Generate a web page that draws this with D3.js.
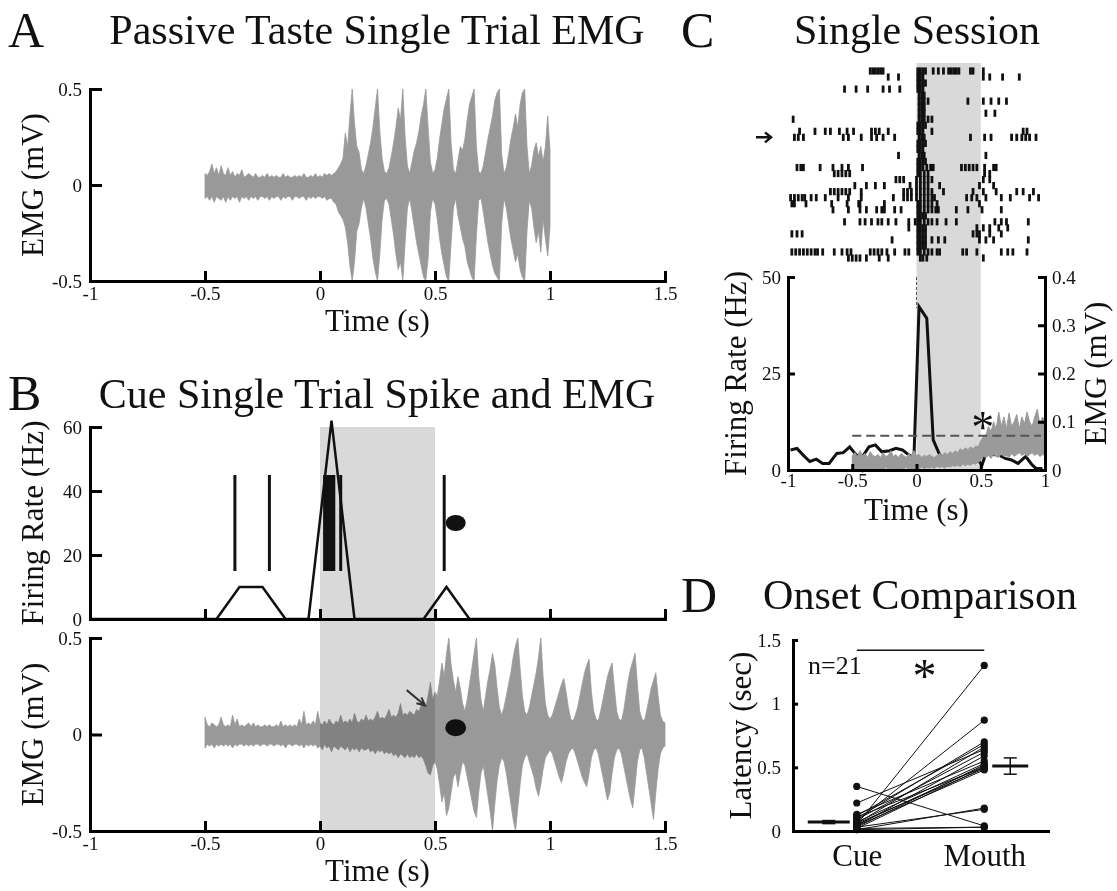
<!DOCTYPE html>
<html lang="en">
<head>
<meta charset="UTF-8">
<title>Cue and taste EMG onset</title>
<script src="https://cdnjs.cloudflare.com/ajax/libs/d3/7.8.5/d3.min.js"></script>
<style>
    body { margin: 0; background: #fff; }
    svg { display: block; font-family: "Liberation Serif", "Times New Roman", serif; }
    .panel-letter { font-size: 50px; fill: #111; }
    .panel-title { font-size: 42px; fill: #111; text-anchor: middle; }
    .axis-label { font-size: 31px; fill: #111; text-anchor: middle; }
</style>
</head>
<body>
<div id="chart"></div>
<script>
// ---------- shared ticks ----------
const timeTicksAB = [-1, -0.5, 0, 0.5, 1, 1.5];
const timeTicksC = [-1, -0.5, 0, 0.5, 1];
const emgTicks = [-0.5, 0, 0.5];
const rateTicksB = [0, 20, 40, 60];
const rateTicksC = [0, 25, 50];
const emgTicksC = [0, 0.1, 0.2, 0.3, 0.4];
const latencyTicks = [0, 0.5, 1, 1.5];
const cueWindow = [0, 0.5];

// ---------- A: passive taste EMG envelope (mV), one sample every 0.01 s from -0.5 s ----------
const emgStep = 0.01;
const tasteEmgStart = -0.5;
const tasteEmgHigh = [
    0.06, 0.05, 0.07, 0.11, 0.06, 0.09, 0.05, 0.10, 0.06, 0.05,
    0.09, 0.05, 0.07, 0.04, 0.06, 0.05, 0.08, 0.04, 0.05, 0.06,
    0.05, 0.04, 0.06, 0.04, 0.04, 0.05, 0.04, 0.06, 0.04, 0.05,
    0.04, 0.05, 0.04, 0.04, 0.06, 0.04, 0.05, 0.04, 0.04, 0.05,
    0.04, 0.05, 0.04, 0.06, 0.04, 0.04, 0.05, 0.04, 0.06, 0.04,
    0.05, 0.04, 0.06, 0.05, 0.06, 0.05, 0.06, 0.07, 0.09, 0.11,
    0.14, 0.27, 0.20, 0.36, 0.50, 0.32, 0.20, 0.17, 0.08, 0.06,
    0.10, 0.16, 0.22, 0.30, 0.40, 0.50, 0.28, 0.14, 0.07, 0.06,
    0.09, 0.15, 0.22, 0.30, 0.40, 0.34, 0.50, 0.25, 0.10, 0.06,
    0.12, 0.18, 0.22, 0.28, 0.36, 0.42, 0.50, 0.30, 0.12, 0.06,
    0.08, 0.14, 0.24, 0.32, 0.40, 0.45, 0.50, 0.22, 0.08, 0.06,
    0.13, 0.20, 0.18, 0.24, 0.34, 0.42, 0.46, 0.50, 0.20, 0.07,
    0.06, 0.10, 0.17, 0.24, 0.30, 0.36, 0.44, 0.48, 0.50, 0.16,
    0.06, 0.09, 0.16, 0.24, 0.30, 0.37, 0.30, 0.42, 0.48, 0.50,
    0.20, 0.06, 0.10, 0.18, 0.22, 0.15, 0.20, 0.12, 0.20, 0.36,
    0.18
];
const tasteEmgLow = [
    -0.07, -0.06, -0.08, -0.06, -0.09, -0.06, -0.07, -0.08, -0.06, -0.09,
    -0.06, -0.08, -0.06, -0.07, -0.06, -0.09, -0.06, -0.07, -0.06, -0.08,
    -0.06, -0.07, -0.06, -0.08, -0.06, -0.06, -0.07, -0.06, -0.08, -0.06,
    -0.07, -0.06, -0.06, -0.08, -0.06, -0.07, -0.06, -0.06, -0.08, -0.06,
    -0.06, -0.07, -0.06, -0.06, -0.08, -0.06, -0.07, -0.06, -0.07, -0.06,
    -0.06, -0.07, -0.06, -0.08, -0.07, -0.07, -0.09, -0.10, -0.14, -0.16,
    -0.18, -0.22, -0.30, -0.42, -0.50, -0.40, -0.24, -0.20, -0.12, -0.07,
    -0.12, -0.20, -0.28, -0.38, -0.45, -0.50, -0.36, -0.18, -0.08, -0.07,
    -0.10, -0.18, -0.26, -0.36, -0.44, -0.40, -0.50, -0.30, -0.12, -0.07,
    -0.14, -0.22, -0.30, -0.36, -0.42, -0.48, -0.50, -0.38, -0.14, -0.07,
    -0.10, -0.18, -0.28, -0.36, -0.42, -0.48, -0.50, -0.30, -0.12, -0.07,
    -0.16, -0.22, -0.28, -0.32, -0.40, -0.44, -0.48, -0.50, -0.26, -0.08,
    -0.07, -0.14, -0.22, -0.30, -0.36, -0.42, -0.46, -0.48, -0.50, -0.20,
    -0.07, -0.12, -0.20, -0.28, -0.34, -0.40, -0.36, -0.44, -0.48, -0.50,
    -0.24, -0.08, -0.12, -0.22, -0.30, -0.24, -0.35, -0.18, -0.28, -0.37,
    -0.22
];

// ---------- B: cue single trial ----------
const trialSpikeTimes = [-0.37, -0.22, 0.02, 0.03, 0.04, 0.05, 0.06, 0.09, 0.54];
const spikeMarkRange = [15, 45];            // Hz span of each spike mark
const trialRateTime = [-1, -0.45, -0.35, -0.25, -0.15, -0.05, 0.05, 0.15, 0.45, 0.55, 0.65, 1.5];
const trialRateHz   = [ 0,     0,    10,    10,     0,     0,   62,    0,    0,   10,    0,   0];
const mouthOnsetTime = 0.59;
const mouthOnsetRate = 30;
const mouthOnsetEmg = 0.035;
const onsetArrowFrom = [0.377, 0.23];
const onsetArrowTo = [0.457, 0.15];

const cueEmgStart = -0.5;
const cueEmgHigh = [
    0.09, 0.05, 0.04, 0.06, 0.05, 0.04, 0.05, 0.09, 0.05, 0.04,
    0.05, 0.04, 0.10, 0.05, 0.08, 0.04, 0.05, 0.04, 0.05, 0.06,
    0.04, 0.06, 0.04, 0.05, 0.04, 0.04, 0.05, 0.04, 0.05, 0.04,
    0.04, 0.05, 0.04, 0.07, 0.04, 0.05, 0.04, 0.05, 0.04, 0.05,
    0.04, 0.08, 0.05, 0.12, 0.05, 0.06, 0.05, 0.07, 0.05, 0.12,
    0.06, 0.05, 0.07, 0.05, 0.08, 0.06, 0.05, 0.07, 0.06, 0.10,
    0.06, 0.07, 0.06, 0.08, 0.06, 0.11, 0.07, 0.06, 0.08, 0.07,
    0.10, 0.07, 0.08, 0.07, 0.09, 0.12, 0.08, 0.09, 0.08, 0.10,
    0.13, 0.09, 0.10, 0.09, 0.11, 0.16, 0.10, 0.11, 0.10, 0.12,
    0.11, 0.10, 0.13, 0.12, 0.15, 0.17, 0.14, 0.20, 0.27, 0.18,
    0.22, 0.20, 0.28, 0.37, 0.30, 0.42, 0.50, 0.36, 0.28, 0.22,
    0.30, 0.24, 0.16, 0.12, 0.18, 0.26, 0.34, 0.42, 0.50, 0.30,
    0.18, 0.12, 0.20, 0.28, 0.34, 0.42, 0.36, 0.24, 0.14, 0.10,
    0.14, 0.20, 0.26, 0.32, 0.40, 0.46, 0.50, 0.34, 0.20, 0.12,
    0.10, 0.14, 0.20, 0.26, 0.32, 0.40, 0.50, 0.30, 0.16, 0.10,
    0.08, 0.10, 0.14, 0.18, 0.22, 0.26, 0.29, 0.22, 0.14, 0.08,
    0.07, 0.10, 0.14, 0.20, 0.26, 0.32, 0.36, 0.39, 0.22, 0.12,
    0.08, 0.07, 0.12, 0.18, 0.24, 0.30, 0.34, 0.37, 0.24, 0.12,
    0.08, 0.07, 0.12, 0.20, 0.28, 0.34, 0.38, 0.42, 0.26, 0.12,
    0.08, 0.07, 0.12, 0.18, 0.24, 0.28, 0.32, 0.20, 0.10, 0.07,
    0.06
];
const cueEmgLow = [
    -0.07, -0.05, -0.06, -0.05, -0.07, -0.05, -0.06, -0.05, -0.06, -0.05,
    -0.06, -0.05, -0.07, -0.05, -0.06, -0.05, -0.05, -0.06, -0.05, -0.06,
    -0.05, -0.06, -0.05, -0.05, -0.06, -0.05, -0.05, -0.06, -0.05, -0.05,
    -0.06, -0.05, -0.05, -0.06, -0.05, -0.07, -0.05, -0.05, -0.06, -0.05,
    -0.05, -0.06, -0.05, -0.07, -0.05, -0.06, -0.05, -0.06, -0.05, -0.07,
    -0.06, -0.08, -0.05, -0.07, -0.06, -0.09, -0.06, -0.07, -0.08, -0.06,
    -0.07, -0.08, -0.06, -0.09, -0.07, -0.08, -0.07, -0.09, -0.07, -0.08,
    -0.08, -0.07, -0.09, -0.08, -0.10, -0.08, -0.09, -0.08, -0.10, -0.09,
    -0.10, -0.09, -0.11, -0.10, -0.12, -0.10, -0.11, -0.12, -0.10, -0.12,
    -0.11, -0.12, -0.10, -0.12, -0.11, -0.13, -0.16, -0.20, -0.21, -0.16,
    -0.14, -0.18, -0.26, -0.35, -0.30, -0.42, -0.38, -0.30, -0.22, -0.20,
    -0.27, -0.20, -0.14, -0.16, -0.22, -0.28, -0.34, -0.40, -0.43, -0.30,
    -0.20, -0.16, -0.24, -0.32, -0.40, -0.50, -0.36, -0.24, -0.16, -0.12,
    -0.14, -0.20, -0.28, -0.36, -0.44, -0.50, -0.38, -0.26, -0.16, -0.12,
    -0.10, -0.14, -0.18, -0.22, -0.28, -0.32, -0.26, -0.18, -0.12, -0.10,
    -0.08, -0.10, -0.14, -0.18, -0.22, -0.25, -0.20, -0.14, -0.10, -0.08,
    -0.07, -0.10, -0.14, -0.18, -0.22, -0.25, -0.27, -0.20, -0.12, -0.08,
    -0.07, -0.10, -0.16, -0.22, -0.28, -0.34, -0.30, -0.20, -0.12, -0.08,
    -0.07, -0.10, -0.16, -0.22, -0.28, -0.34, -0.38, -0.26, -0.14, -0.08,
    -0.07, -0.12, -0.20, -0.28, -0.36, -0.44, -0.30, -0.18, -0.10, -0.07,
    -0.06
];

// ---------- C: single session ----------
// spike times (s) per trial, trial 0 at top
const sessionSpikes = [
    [-0.36, -0.34, -0.32, -0.30, -0.28, -0.26, 0.01, 0.03, 0.05, 0.07, 0.13, 0.17, 0.21, 0.25, 0.27, 0.29, 0.31, 0.33, 0.42, 0.44, 0.52],
    [-0.22, -0.14, 0.01, 0.03, 0.05, 0.52, 0.57, 0.67, 0.80],
    [0.01, 0.03, 0.05, 0.07],
    [-0.56, -0.47, -0.38, -0.26, -0.21, -0.13, 0.01, 0.03, 0.05],
    [0.02, 0.04, 0.06],
    [0.02, 0.04, 0.06, 0.09, 0.40, 0.52, 0.58, 0.64, 0.70],
    [0.02, 0.04, 0.06],
    [0.02, 0.04, 0.06, 0.54, 0.61],
    [-0.96, 0.02, 0.04, 0.06, 0.09, 0.12],
    [0.01, 0.03, 0.05, 0.07],
    [-0.91, -0.79, -0.71, -0.67, -0.60, -0.54, -0.49, -0.35, -0.32, -0.29, -0.22, 0.01, 0.03, 0.05, 0.12, 0.83, 0.86],
    [-0.95, -0.92, -0.88, -0.57, -0.53, -0.43, -0.35, -0.31, -0.26, -0.17, 0.02, 0.04, 0.06, 0.42, 0.53, 0.58, 0.74, 0.78, 0.82, 0.85, 0.88, 0.93],
    [0.01, 0.03, 0.05, 0.07],
    [0.01, 0.03, 0.05],
    [-0.14, 0.02, 0.04, 0.06, 0.54],
    [0.01, 0.03, 0.05, 0.07],
    [-0.93, -0.90, -0.88, -0.75, -0.65, -0.58, -0.53, -0.42, 0.01, 0.03, 0.05, 0.08, 0.11, 0.13, 0.35, 0.38, 0.41, 0.44, 0.47, 0.53, 0.60, 0.62],
    [-0.64, -0.61, -0.58, -0.55, -0.52, 0.01, 0.03, 0.06, 0.09, 0.53, 0.57],
    [-0.16, -0.13, -0.10, 0.00, 0.03, 0.06, 0.09, 0.12, 0.52, 0.57],
    [-0.48, -0.39, -0.32, -0.25, -0.05, 0.00, 0.03, 0.06, 0.09, 0.18, 0.49, 0.60],
    [-0.67, -0.64, -0.61, -0.58, -0.55, -0.52, -0.43, -0.10, -0.07, -0.04, 0.00, 0.03, 0.06, 0.09, 0.12, 0.21, 0.44, 0.52, 0.62, 0.78, 0.83, 0.91],
    [-0.98, -0.95, -0.92, -0.89, -0.87, -0.82, -0.78, -0.71, -0.61, -0.53, -0.43, -0.18, -0.10, -0.07, -0.04, 0.00, 0.03, 0.06, 0.09, 0.12, 0.14, 0.39, 0.43, 0.47, 0.54, 0.66, 0.73, 0.88, 0.95],
    [-0.97, -0.95, -0.86, -0.66, -0.54, -0.45, -0.44, -0.25, 0.01, 0.03, 0.06, 0.09, 0.12, 0.16, 0.49],
    [-0.65, -0.53, -0.44, -0.39, -0.31, -0.27, -0.25, -0.17, -0.12, 0.01, 0.03, 0.06, 0.09, 0.12, 0.15, 0.17, 0.31, 0.40, 0.51, 0.66],
    [0.01, 0.03, 0.05, 0.07],
    [-0.56, -0.44, -0.40, -0.35, -0.30, -0.27, -0.22, -0.16, -0.06, -0.01, 0.01, 0.03, 0.06, 0.09, 0.12, 0.16, 0.23, 0.31, 0.61, 0.66, 0.70, 0.87],
    [-0.06, 0.01, 0.03, 0.05, 0.07, 0.47, 0.52, 0.57, 0.64, 0.71],
    [-0.97, -0.93, -0.89, 0.01, 0.03, 0.05, 0.07, 0.44, 0.47, 0.49, 0.57, 0.66],
    [-0.19, 0.01, 0.03, 0.05, 0.07, 0.12, 0.17, 0.22, 0.49, 0.54, 0.60, 0.87],
    [0.01, 0.03, 0.05, 0.07],
    [-0.97, -0.94, -0.91, -0.88, -0.85, -0.82, -0.79, -0.77, -0.73, -0.64, -0.58, -0.54, -0.51, -0.36, -0.33, -0.30, -0.27, -0.23, -0.17, -0.09, -0.06, 0.01, 0.03, 0.06, 0.09, 0.12, 0.16, 0.18, 0.36, 0.39, 0.47, 0.66, 0.71, 0.75, 0.86],
    [-0.53, -0.50, -0.47, -0.44, -0.39, -0.29, -0.22, 0.03, 0.05, 0.08, 0.52]
];
const markedTrial = 11;

const sessionRateTime = [-0.98, -0.93, -0.88, -0.83, -0.78, -0.73, -0.68, -0.62, -0.57, -0.52, -0.47, -0.42, -0.37, -0.32, -0.27, -0.21, -0.16, -0.11, -0.06, -0.02, 0.02, 0.08, 0.13, 0.18, 0.23, 0.28, 0.33, 0.38, 0.43, 0.48, 0.51, 0.54, 0.59, 0.64, 0.69, 0.74, 0.79, 0.85, 0.90, 0.93, 0.98];
const sessionRateHz   = [5.2, 5.6, 3.8, 2.2, 2.8, 1.7, 1.7, 4.3, 4.5, 6.0, 3.9, 3.5, 6.0, 6.5, 4.7, 5.0, 5.6, 5.2, 3.9, 3.2, 42.3, 39.3, 7.8, 3.9, 2.5, 2.0, 2.4, 2.8, 3.0, 2.5, 1.3, 4.3, 4.0, 3.9, 3.0, 2.6, 1.7, 3.5, 1.3, 0.4, 0.4];

// mean EMG (mV), one sample every 0.02 s from -0.5 s
const sessionEmgStart = -0.5;
const sessionEmgStep = 0.02;
const sessionEmgHigh = [
    0.030, 0.036, 0.028, 0.040, 0.030, 0.034, 0.026, 0.038, 0.030, 0.028,
    0.032, 0.026, 0.036, 0.028, 0.030, 0.040, 0.028, 0.032, 0.026, 0.034,
    0.030, 0.026, 0.034, 0.028, 0.040, 0.030, 0.032, 0.026, 0.030, 0.028,
    0.032, 0.028, 0.026, 0.030, 0.034, 0.030, 0.036, 0.032, 0.038, 0.034,
    0.040, 0.036, 0.044, 0.040, 0.046, 0.042, 0.048, 0.044, 0.050, 0.048,
    0.060, 0.070, 0.072, 0.090, 0.080, 0.100, 0.085, 0.120, 0.090, 0.110,
    0.085, 0.118, 0.090, 0.100, 0.115, 0.085, 0.110, 0.095, 0.120, 0.100,
    0.090, 0.110, 0.126, 0.095, 0.110, 0.100
];
const sessionEmgLow = [
    0.002, -0.004, 0.004, 0.000, -0.006, 0.003, 0.000, 0.004, -0.003, 0.002,
    0.004, 0.000, -0.004, 0.005, 0.002, -0.002, 0.004, 0.000, 0.003, -0.004,
    0.002, 0.005, 0.000, 0.003, -0.003, 0.004, 0.002, 0.006, 0.003, 0.005,
    0.004, 0.006, 0.003, 0.008, 0.005, 0.007, 0.004, 0.008, 0.006, 0.009,
    0.008, 0.010, 0.007, 0.012, 0.009, 0.012, 0.010, 0.014, 0.012, 0.016,
    0.020, 0.028, 0.026, 0.030, 0.024, 0.032, 0.028, 0.026, 0.034, 0.028,
    0.030, 0.026, 0.034, 0.028, 0.032, 0.036, 0.030, 0.034, 0.028, 0.032,
    0.036, 0.030, 0.034, 0.028, 0.032, 0.030
];
const emgThreshold = 0.071;
const thresholdSpan = [-0.5, 0.97];
const emgOnsetMark = [0.515, 0.1];

// ---------- D: onset comparison (s), paired by session ----------
const groups = ["Cue", "Mouth"];
const cueLatency   = [0.05, 0.08, 0.10, 0.12, 0.06, 0.22, 0.09, 0.04, 0.13, 0.07, 0.03, 0.05, 0.11, 0.02, 0.06, 0.04, 0.01, 0.03, 0.35, 0.02, 0.01];
const mouthLatency = [1.30, 0.87, 0.70, 0.68, 0.66, 0.64, 0.62, 0.59, 0.55, 0.53, 0.52, 0.51, 0.50, 0.50, 0.49, 0.48, 0.18, 0.17, 0.04, 0.03, 0.03];
const groupMean = [0.07, 0.51];
const groupSem = [0.012, 0.064];
const significanceLevel = 1.42;

// ---------- drawing ----------
const serif = "'Liberation Serif', 'Times New Roman', serif";
const shade = "#d9d9d9";
const emgGrey = "#999";

const svg = d3.select("#chart").append("svg")
    .attr("width", 1117)
    .attr("height", 891);
svg.append("rect").attr("width", 1117).attr("height", 891).attr("fill", "#fff");

function styleAxis(g, fontSize) {
    g.attr("font-family", serif).attr("font-size", fontSize || 19);
    g.select(".domain").attr("stroke", "#000").attr("stroke-width", 3).attr("stroke-linecap", "square");
    g.selectAll(".tick line").attr("stroke", "#000").attr("stroke-width", 3);
    g.selectAll(".tick text").attr("fill", "#111");
    return g;
}

function emgRows(start, step, hi, lo) {
    return hi.map((h, i) => ({ t: start + i * step, hi: h, lo: lo[i] }));
}

function panelText(x, y, cls, txt) {
    return svg.append("text").attr("class", cls).attr("x", x).attr("y", y).text(txt);
}

function rotatedLabel(x, y, txt) {
    svg.append("text")
        .attr("class", "axis-label")
        .attr("transform", `translate(${x},${y}) rotate(-90)`)
        .text(txt);
}

// ===== Panel A =====
const xA = d3.scaleLinear().domain([-1, 1.5]).range([90, 665]);
const yA = d3.scaleLinear().domain([-0.5, 0.5]).range([281, 89]);

svg.append("path")
    .datum(emgRows(tasteEmgStart, emgStep, tasteEmgHigh, tasteEmgLow))
    .attr("fill", emgGrey)
    .attr("stroke", emgGrey)
    .attr("stroke-width", 0.8)
    .attr("d", d3.area().x(d => xA(d.t)).y0(d => yA(d.lo)).y1(d => yA(d.hi)));

styleAxis(svg.append("g").attr("transform", `translate(0,${yA(-0.5)})`)
    .call(d3.axisBottom(xA).tickValues(timeTicksAB).tickSizeInner(-10).tickSizeOuter(0)
        .tickPadding(6).tickFormat(d => String(d))));
styleAxis(svg.append("g").attr("transform", `translate(${xA(-1)},0)`)
    .call(d3.axisLeft(yA).tickValues(emgTicks).tickSizeInner(-12).tickSizeOuter(0)
        .tickPadding(8).tickFormat(d => String(d))));

panelText(8, 47, "panel-letter", "A");
panelText(377, 44, "panel-title", "Passive Taste Single Trial EMG");
panelText((xA.range()[0] + xA.range()[1]) / 2, yA(-0.5) + 50, "axis-label", "Time (s)");
rotatedLabel(43, (yA(0.5) + yA(-0.5)) / 2, "EMG (mV)");

// ===== Panel B =====
const xB = d3.scaleLinear().domain([-1, 1.5]).range([90, 665]);
const yBt = d3.scaleLinear().domain([0, 60]).range([619, 427]);
const yBb = d3.scaleLinear().domain([-0.5, 0.5]).range([831, 638]);

// cue window shading across both sub-plots
svg.append("rect")
    .attr("x", xB(cueWindow[0]))
    .attr("y", yBt(60))
    .attr("width", xB(cueWindow[1]) - xB(cueWindow[0]))
    .attr("height", yBb(-0.5) - yBt(60))
    .attr("fill", shade);

// spike marks
svg.append("g").selectAll("line")
    .data(trialSpikeTimes)
    .enter().append("line")
    .attr("x1", d => xB(d)).attr("x2", d => xB(d))
    .attr("y1", yBt(spikeMarkRange[1])).attr("y2", yBt(spikeMarkRange[0]))
    .attr("stroke", "#111").attr("stroke-width", 3);

// firing rate
svg.append("path")
    .datum(trialRateTime.map((t, i) => [t, trialRateHz[i]]))
    .attr("fill", "none")
    .attr("stroke", "#111")
    .attr("stroke-width", 2.5)
    .attr("d", d3.line().x(d => xB(d[0])).y(d => yBt(d[1])));

svg.append("ellipse")
    .attr("cx", xB(mouthOnsetTime)).attr("cy", yBt(mouthOnsetRate))
    .attr("rx", 10).attr("ry", 8).attr("fill", "#111");

styleAxis(svg.append("g").attr("transform", `translate(0,${yBt(0)})`)
    .call(d3.axisBottom(xB).tickValues(timeTicksAB).tickSizeInner(-10).tickSizeOuter(0).tickFormat("")));
styleAxis(svg.append("g").attr("transform", `translate(${xB(-1)},0)`)
    .call(d3.axisLeft(yBt).tickValues(rateTicksB).tickSizeInner(-12).tickSizeOuter(0)
        .tickPadding(8).tickFormat(d => String(d))));

// EMG below
svg.append("path")
    .datum(emgRows(cueEmgStart, emgStep, cueEmgHigh, cueEmgLow))
    .attr("fill", emgGrey)
    .attr("stroke", emgGrey)
    .attr("stroke-width", 0.8)
    .style("mix-blend-mode", "multiply")
    .attr("d", d3.area().x(d => xB(d.t)).y0(d => yBb(d.lo)).y1(d => yBb(d.hi)));

svg.append("ellipse")
    .attr("cx", xB(mouthOnsetTime)).attr("cy", yBb(mouthOnsetEmg))
    .attr("rx", 10.5).attr("ry", 8.5).attr("fill", "#111");

// onset arrow
const ax0 = xB(onsetArrowFrom[0]), ay0 = yBb(onsetArrowFrom[1]);
const ax1 = xB(onsetArrowTo[0]), ay1 = yBb(onsetArrowTo[1]);
const ang = Math.atan2(ay1 - ay0, ax1 - ax0);
const headLen = 9;
svg.append("path")
    .attr("d", `M${ax0},${ay0}L${ax1},${ay1}` +
        `M${ax1 - headLen * Math.cos(ang - 0.45)},${ay1 - headLen * Math.sin(ang - 0.45)}L${ax1},${ay1}` +
        `L${ax1 - headLen * Math.cos(ang + 0.45)},${ay1 - headLen * Math.sin(ang + 0.45)}`)
    .attr("fill", "none").attr("stroke", "#333").attr("stroke-width", 2);

styleAxis(svg.append("g").attr("transform", `translate(0,${yBb(-0.5)})`)
    .call(d3.axisBottom(xB).tickValues(timeTicksAB).tickSizeInner(-10).tickSizeOuter(0)
        .tickPadding(6).tickFormat(d => String(d))));
styleAxis(svg.append("g").attr("transform", `translate(${xB(-1)},0)`)
    .call(d3.axisLeft(yBb).tickValues(emgTicks).tickSizeInner(-12).tickSizeOuter(0)
        .tickPadding(8).tickFormat(d => String(d))));

panelText(8, 410, "panel-letter", "B");
panelText(377, 408, "panel-title", "Cue Single Trial Spike and EMG");
panelText((xB.range()[0] + xB.range()[1]) / 2, yBb(-0.5) + 50, "axis-label", "Time (s)");
rotatedLabel(43, (yBt(0) + yBt(60)) / 2, "Firing Rate (Hz)");
rotatedLabel(43, (yBb(0.5) + yBb(-0.5)) / 2, "EMG (mV)");

// ===== Panel C =====
const xC = d3.scaleLinear().domain([-1, 1]).range([788, 1045]);
const yCr = d3.scaleLinear().domain([0, 50]).range([470, 277]);
const yCe = d3.scaleLinear().domain([0, 0.4]).range([470, 277]);
const yTrial = d3.scaleLinear().domain([0, sessionSpikes.length - 1]).range([71, 258]);

svg.append("rect")
    .attr("x", xC(cueWindow[0]))
    .attr("y", yTrial(0) - 8)
    .attr("width", xC(cueWindow[1]) - xC(cueWindow[0]))
    .attr("height", yCr(0) - yTrial(0) + 8)
    .attr("fill", shade);

const rasterG = svg.append("g");
sessionSpikes.forEach((spikes, trial) => {
    rasterG.selectAll(null)
        .data(spikes)
        .enter().append("line")
        .attr("x1", d => xC(d)).attr("x2", d => xC(d))
        .attr("y1", yTrial(trial) - 3.6).attr("y2", yTrial(trial) + 3.6)
        .attr("stroke", "#111").attr("stroke-width", 2.8);
});

// arrow marking the example trial
const ry = yTrial(markedTrial);
const rx1 = xC(-1) - 17, rx0 = xC(-1) - 32;
svg.append("path")
    .attr("d", `M${rx0},${ry}L${rx1},${ry}M${rx1 - 6},${ry - 5}L${rx1},${ry}L${rx1 - 6},${ry + 5}`)
    .attr("fill", "none").attr("stroke", "#111").attr("stroke-width", 2.5);

// PSTH
svg.append("path")
    .datum(sessionRateTime.map((t, i) => [t, sessionRateHz[i]]))
    .attr("fill", "none")
    .attr("stroke", "#111")
    .attr("stroke-width", 3)
    .attr("d", d3.line().x(d => xC(d[0])).y(d => yCr(d[1])));

svg.append("line")
    .attr("x1", xC(0)).attr("x2", xC(0))
    .attr("y1", yCr(50)).attr("y2", yCr(42))
    .attr("stroke", "#555").attr("stroke-width", 1).attr("stroke-dasharray", "3,2");

// mean EMG
svg.append("path")
    .datum(emgRows(sessionEmgStart, sessionEmgStep, sessionEmgHigh, sessionEmgLow))
    .attr("fill", "#9a9a9a")
    .attr("stroke", "#9a9a9a")
    .attr("stroke-width", 1)
    .attr("d", d3.area().x(d => xC(d.t)).y0(d => yCe(d.lo)).y1(d => yCe(d.hi)));

svg.append("line")
    .attr("x1", xC(thresholdSpan[0])).attr("x2", xC(thresholdSpan[1]))
    .attr("y1", yCe(emgThreshold)).attr("y2", yCe(emgThreshold))
    .attr("stroke", "#555").attr("stroke-width", 2).attr("stroke-dasharray", "9,5");

svg.append("text")
    .attr("x", xC(emgOnsetMark[0])).attr("y", yCe(emgOnsetMark[1]) + 21)
    .attr("text-anchor", "middle").attr("font-size", 46).attr("fill", "#111")
    .text("*");

styleAxis(svg.append("g").attr("transform", `translate(0,${yCr(0)})`)
    .call(d3.axisBottom(xC).tickValues(timeTicksC).tickSizeInner(-6).tickSizeOuter(0)
        .tickPadding(4).tickFormat(d => String(d))));
styleAxis(svg.append("g").attr("transform", `translate(${xC(-1)},0)`)
    .call(d3.axisLeft(yCr).tickValues(rateTicksC).tickSizeInner(-7).tickSizeOuter(0)
        .tickPadding(7).tickFormat(d => String(d))));
styleAxis(svg.append("g").attr("transform", `translate(${xC(1)},0)`)
    .call(d3.axisRight(yCe).tickValues(emgTicksC).tickSizeInner(-7).tickSizeOuter(0)
        .tickPadding(7).tickFormat(d => String(d))));

panelText(681, 47, "panel-letter", "C");
panelText(917, 44, "panel-title", "Single Session");
panelText((xC(-1) + xC(1)) / 2, yCr(0) + 50, "axis-label", "Time (s)");
rotatedLabel(746, (yCr(0) + yCr(50)) / 2, "Firing Rate (Hz)");
rotatedLabel(1106, (yCe(0) + yCe(0.4)) / 2, "EMG (mV)");

// ===== Panel D =====
const xD = d3.scalePoint().domain(groups).range([793, 1048]).padding(0.5);
const yD = d3.scaleLinear().domain([0, 1.5]).range([831, 640]);

const pairs = cueLatency.map((c, i) => [c, mouthLatency[i]]);
svg.append("g").selectAll("line")
    .data(pairs)
    .enter().append("line")
    .attr("x1", xD("Cue")).attr("x2", xD("Mouth"))
    .attr("y1", d => yD(d[0])).attr("y2", d => yD(d[1]))
    .attr("stroke", "#111").attr("stroke-width", 1);

groups.forEach((g, gi) => {
    const vals = gi === 0 ? cueLatency : mouthLatency;
    svg.append("g").selectAll("circle")
        .data(vals)
        .enter().append("circle")
        .attr("cx", xD(g)).attr("cy", d => yD(d))
        .attr("r", 3.6).attr("fill", "#111");
});

// group means with SEM, offset beside each column
const meanOffset = [-28, 26];
const meanHalf = [21, 18];
groups.forEach((g, gi) => {
    const cx = xD(g) + meanOffset[gi];
    const mg = svg.append("g").attr("stroke", "#111");
    mg.append("line")
        .attr("x1", cx - meanHalf[gi]).attr("x2", cx + meanHalf[gi])
        .attr("y1", yD(groupMean[gi])).attr("y2", yD(groupMean[gi]))
        .attr("stroke-width", 3);
    mg.append("line")
        .attr("x1", cx).attr("x2", cx)
        .attr("y1", yD(groupMean[gi] - groupSem[gi])).attr("y2", yD(groupMean[gi] + groupSem[gi]))
        .attr("stroke-width", 1.5);
    [groupMean[gi] - groupSem[gi], groupMean[gi] + groupSem[gi]].forEach(v => {
        mg.append("line")
            .attr("x1", cx - 6.5).attr("x2", cx + 6.5)
            .attr("y1", yD(v)).attr("y2", yD(v))
            .attr("stroke-width", 1.5);
    });
});

svg.append("line")
    .attr("x1", xD("Cue")).attr("x2", xD("Mouth"))
    .attr("y1", yD(significanceLevel)).attr("y2", yD(significanceLevel))
    .attr("stroke", "#111").attr("stroke-width", 1.5);
svg.append("text")
    .attr("x", (xD("Cue") + xD("Mouth")) / 2 + 4)
    .attr("y", yD(significanceLevel) + 42)
    .attr("text-anchor", "middle").attr("font-size", 48).attr("fill", "#111")
    .text("*");
svg.append("text")
    .attr("x", xD.range()[0] + 15).attr("y", yD(1.23))
    .attr("font-size", 26).attr("fill", "#111")
    .text("n=21");

styleAxis(svg.append("g").attr("transform", `translate(0,${yD(0)})`)
    .call(d3.axisBottom(xD).tickSize(0).tickPadding(13)), 31);
styleAxis(svg.append("g").attr("transform", `translate(${xD.range()[0]},0)`)
    .call(d3.axisLeft(yD).tickValues(latencyTicks).tickSizeInner(-5).tickSizeOuter(0)
        .tickPadding(12).tickFormat(d => String(d))));

panelText(681, 612, "panel-letter", "D");
panelText(920, 609, "panel-title", "Onset Comparison");
rotatedLabel(751, (yD(0) + yD(1.5)) / 2, "Latency (sec)");
</script>
</body>
</html>
